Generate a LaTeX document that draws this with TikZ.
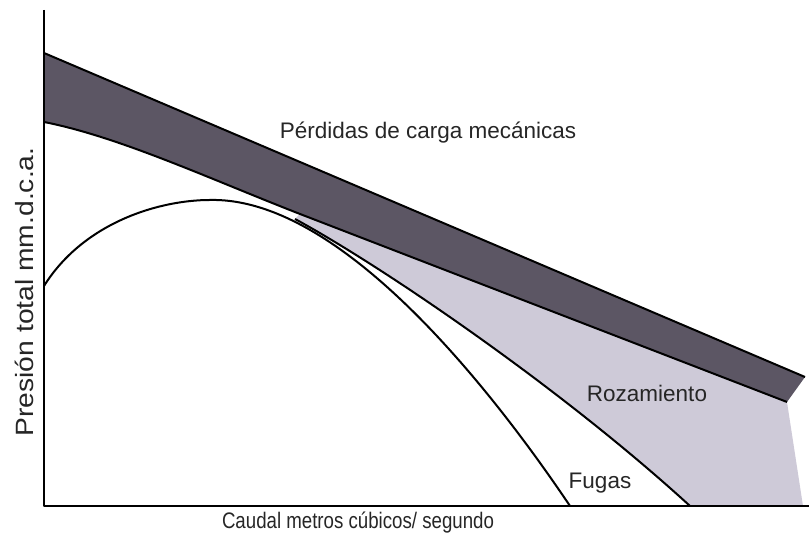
\documentclass[tikz,border=0pt]{standalone}
\usepackage{fontspec}
\setmainfont{Liberation Sans}

\definecolor{banda}{RGB}{92,86,100}
\definecolor{roce}{RGB}{206,202,216}

\begin{document}
\begin{tikzpicture}[x=1pt,y=1pt,
  curva/.style={line width=2pt,line join=round},
  rotulo/.style={inner sep=0pt,text=black!85,font=\fontsize{22.5}{27}\selectfont}]
  \useasboundingbox (0,0) rectangle (809,537);
  \fill[roce] (295,318) .. controls (380,272) and (560,150) .. (690,31)
    -- (803,31) -- (787,135) -- (300,323) -- cycle;
  \fill[banda] (44,484) -- (805,160) -- (787,135) -- (300,323)
    .. controls (210,358) and (120,400) .. (44,415) -- cycle;
  \draw[curva] (44,484) -- (805,160);
  \draw[curva] (44,415) .. controls (120,400) and (210,358) .. (300,323) -- (787,135);
  \draw[curva] (44,251) .. controls (84,315) and (160,337) .. (210,337)
    .. controls (340,340) and (490,150) .. (570,31);
  \draw[curva] (295,318) .. controls (380,272) and (560,150) .. (690,31);
  \draw[curva] (44,527) -- (44,31) -- (809,31);
  \node[rotulo] (perdidas) at (428,404) {Pérdidas de carga mecánicas};
  \node[rotulo] (rozamiento) at (647,144) {Rozamiento};
  \node[rotulo] (fugas) at (600,54) {Fugas};
  \node[rotulo] (caudal) at (358,14) {\scalebox{0.83}[1]{Caudal metros cúbicos/ segundo}};
  \node[rotulo,rotate=90,font=\fontsize{25}{30}\selectfont] (presion) at (24,245) {\scalebox{1.13}[1]{Presión total mm.d.c.a.}};
\end{tikzpicture}
\end{document}
